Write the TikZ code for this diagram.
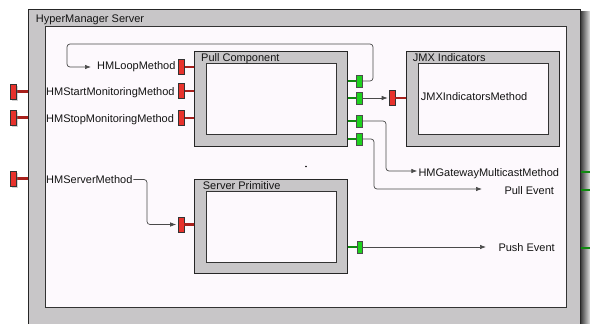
\documentclass[tikz,border=0pt]{standalone}
\usepackage{fontspec}
\setmainfont{Liberation Sans}
\usetikzlibrary{arrows.meta,shadows}
\definecolor{boxgray}{HTML}{C8C6C8}
\definecolor{paper}{HTML}{FDF9FD}
\definecolor{portred}{HTML}{E8322C}
\definecolor{stemred}{HTML}{A8201C}
\definecolor{portgreen}{HTML}{1ED21E}
\definecolor{stemgreen}{HTML}{108A10}
\definecolor{wire}{HTML}{4A4A4A}
\definecolor{ink}{HTML}{141414}
\begin{document}
\begin{tikzpicture}[x=1pt,y=-1pt,
  font=\fontsize{11}{13}\selectfont, text=ink,
  frame/.style={draw=black!85, line width=0.8pt, fill=boxgray, inner sep=0pt, anchor=north west},
  pane/.style={draw=black!80, line width=0.8pt, fill=paper, inner sep=0pt, anchor=north west},
  redport/.style={draw=black!80, line width=0.6pt, fill=portred, minimum width=6pt, minimum height=15pt, inner sep=0pt},
  greenport/.style={draw=black!70, line width=0.6pt, fill=portgreen, minimum width=5.5pt, minimum height=12pt, inner sep=0pt},
  outshadow/.style={drop shadow={shadow xshift=1.5pt, shadow yshift=-2pt, opacity=0.35}},
  redstem/.style={draw=stemred, line width=2.2pt},
  greenstem/.style={draw=stemgreen, line width=2.2pt},
  wirearrow/.style={draw=wire, line width=0.7pt, rounded corners=3pt, -{Latex[length=6pt,width=4.5pt]}},
  lbl/.style={anchor=base west, inner sep=0pt}]
\useasboundingbox (0,0) rectangle (590,324);
\begin{scope}
\clip (0,0) rectangle (590,324);
\fill[white] (0,0) rectangle (590,324);

% server frame with its shadow on the right
\shade[left color=black!80, right color=black!12] (580,11) rectangle (590,330);
\node[frame, minimum width=552pt, minimum height=340pt] (server) at (28,9) {};
\node[pane, minimum width=521pt, minimum height=281pt] (serverpane) at (45,26) {};
\node[lbl] (servertitle) at (35.7,23) {HyperManager Server};

% components
\node[frame, minimum width=153pt, minimum height=95pt] (pull) at (194,51) {};
\node[pane, minimum width=130pt, minimum height=71pt] (pullpane) at (206,63) {};
\node[lbl] (pulltitle) at (201,61) {Pull Component};

\node[frame, minimum width=153pt, minimum height=95pt] (jmx) at (406,51) {};
\node[pane, minimum width=130pt, minimum height=71pt] (jmxpane) at (418,63) {};
\node[lbl] (jmxtitle) at (412.7,61) {JMX Indicators};

\node[frame, minimum width=153pt, minimum height=94pt] (prim) at (194,179) {};
\node[pane, minimum width=130pt, minimum height=71pt] (primpane) at (206,191) {};
\node[lbl] (primtitle) at (202.7,189) {Server Primitive};

% labels
\node[lbl] (loopTxt) at (97,69.5) {HMLoopMethod};
\node[lbl] (startTxt) at (46,95.7) {HMStartMonitoringMethod};
\node[lbl] (stopTxt) at (46,122.3) {HMStopMonitoringMethod};
\node[lbl] (serverTxt) at (46,183.5) {HMServerMethod};
\node[lbl] (jmxTxt) at (420.7,100) {JMXIndicatorsMethod};
\node[lbl] (gwTxt) at (418.3,176) {HMGatewayMulticastMethod};
\node[lbl] (pullTxt) at (504.3,194) {Pull Event};
\node[lbl] (pushTxt) at (498.3,251) {Push Event};

% ports on the server frame
\foreach \n/\y in {op1/91.5, op2/117.5, op3/178.5}{
  \draw[redstem] (17,\y) -- (28,\y);
  \node[redport, outshadow] (\n) at (13.5,\y) {};
}
\foreach \n/\y in {rs1/172, rs2/190, rs3/248}{
  \coordinate (\n) at (590,\y);
  \draw[greenstem] (\n -| server.east) -- (\n);
}

% ports on the components
\foreach \n/\y in {pp1/67, pp2/91, pp3/118}{
  \node[redport] (\n) at (181.5,\y) {};
  \draw[redstem] (\n.east) -- (\n.east -| pull.west);
}
\node[redport] (jp) at (392,98) {};
\draw[redstem] (jp.east) -- (jp.east -| jmx.west);
\node[redport] (sp1) at (181,224.5) {};
\draw[redstem] (sp1.east) -- (sp1.east -| prim.west);

\foreach \n/\y in {g1/81, g2/98, g3/121, g4/139}{
  \node[greenport] (\n) at (359.5,\y) {};
  \draw[greenstem] (\n.west) -- (\n.west -| pull.east);
}
\node[greenport] (g5) at (360,247) {};
\draw[greenstem] (g5.west) -- (g5.west -| prim.east);

% connectors
\coordinate (pullEnd) at (482,189);
\coordinate (pushEnd) at (486,247);
\draw[wirearrow] (g1.east) -- (373,81) -- (373,44) -- (67,44) -- (67,67)
  -- ([xshift=-6pt,yshift=2.5pt]loopTxt.base west);
\draw[wirearrow, shorten >=1pt] (g2.east) -- (jp.west);
\draw[wirearrow] (g3.east) -- (386,121) -- (386,171)
  -- ([xshift=-1pt,yshift=5pt]gwTxt.base west);
\draw[wirearrow] (g4.east) -- (374,139) -- (374,189) -- (pullEnd);
\draw[wirearrow] (g5.east) -- (pushEnd);
\draw[wirearrow, shorten >=1.5pt] ([xshift=0.8pt,yshift=4pt]serverTxt.base east)
  -- (147,179.5) -- (147,224.5) -- (sp1.west);

% stray point in the server pane
\fill[black] (306,166.5) circle (0.9pt);
\end{scope}
\end{tikzpicture}
\end{document}
